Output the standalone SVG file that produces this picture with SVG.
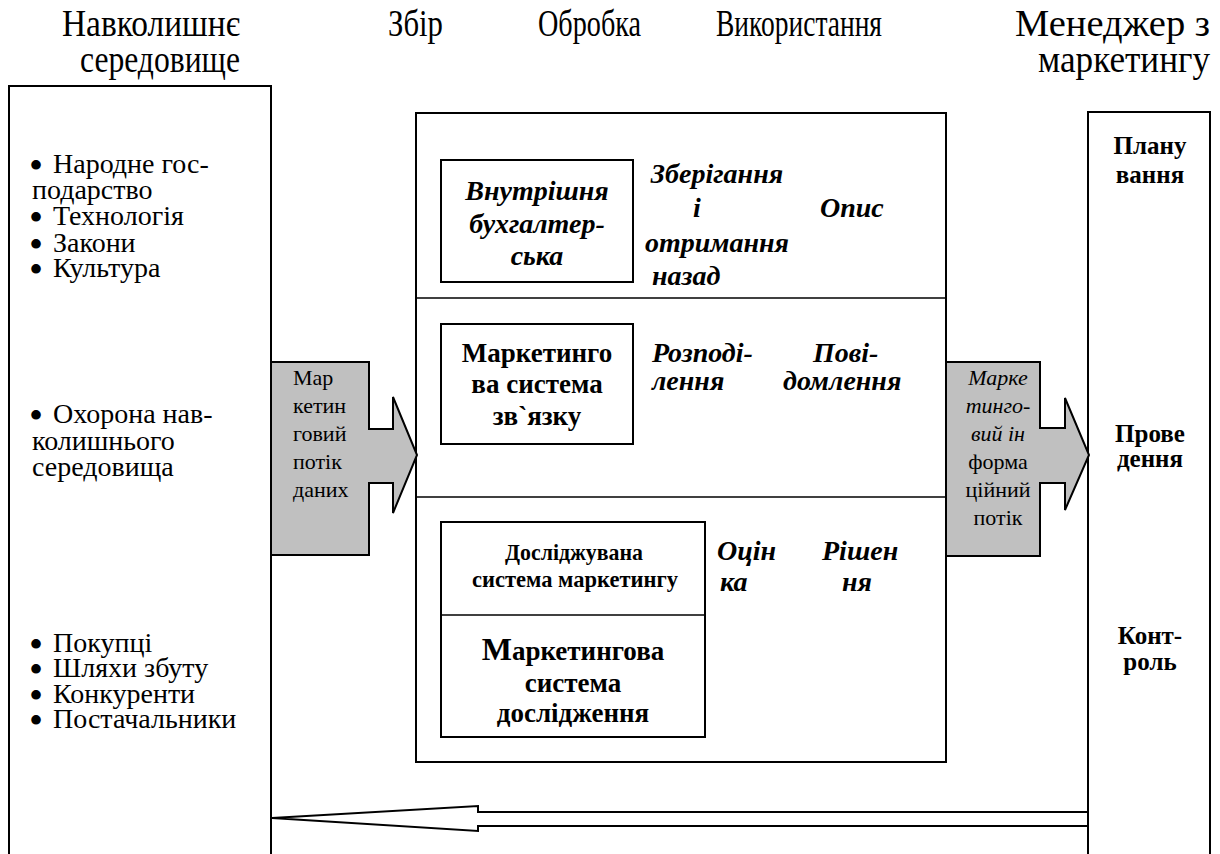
<svg xmlns="http://www.w3.org/2000/svg" width="1220" height="854" viewBox="0 0 1220 854">
<style>
text{font-family:'Liberation Serif','Times New Roman',Tinos,'DejaVu Serif',serif;fill:#000}
.title{font-size:37px}
.list{font-size:28px}
.bul{font-size:40px}
.bi{font-size:28px;font-weight:bold;font-style:italic}
.b{font-size:27px;font-weight:bold}
.bs{font-size:24px;font-weight:bold}
.g{font-size:22px}
.gi{font-size:22px;font-style:italic}
.rb{font-size:25px;font-weight:bold}
.box{fill:#fff;stroke:#000;stroke-width:2}
.div{stroke:#000;stroke-width:1.5;fill:none}
.arr{fill:#c0c0c0;stroke:#000;stroke-width:2;stroke-linejoin:miter}
.harr{fill:#fff;stroke:#000;stroke-width:2}
</style>
<rect width="1220" height="854" fill="#fff"/>
<g id="titles">
<text class="title" x="62" y="36" textLength="178" lengthAdjust="spacingAndGlyphs">Навколишнє</text>
<text class="title" x="80" y="72" textLength="160" lengthAdjust="spacingAndGlyphs">середовище</text>
<text class="title" x="388" y="36" textLength="55" lengthAdjust="spacingAndGlyphs">Збір</text>
<text class="title" x="538" y="36" textLength="103" lengthAdjust="spacingAndGlyphs">Обробка</text>
<text class="title" x="716" y="36" textLength="166" lengthAdjust="spacingAndGlyphs">Використання</text>
<text class="title" x="1015" y="36" textLength="195" lengthAdjust="spacingAndGlyphs">Менеджер з</text>
<text class="title" x="1038" y="72" textLength="172" lengthAdjust="spacingAndGlyphs">маркетингу</text>
</g>
<g id="environment">
<rect class="box" x="9" y="86" width="262" height="780"/>
<text class="list" y="173"><tspan class="bul" x="29" dy="6">•</tspan><tspan x="53" dy="-6">Народне гос-</tspan></text>
<text class="list" x="32" y="199">подарство</text>
<text class="list" y="225"><tspan class="bul" x="29" dy="6">•</tspan><tspan x="53" dy="-6">Технологія</tspan></text>
<text class="list" y="252"><tspan class="bul" x="29" dy="6">•</tspan><tspan x="53" dy="-6">Закони</tspan></text>
<text class="list" y="277"><tspan class="bul" x="29" dy="6">•</tspan><tspan x="53" dy="-6">Культура</tspan></text>
<text class="list" y="423"><tspan class="bul" x="29" dy="6">•</tspan><tspan x="53" dy="-6">Охорона нав-</tspan></text>
<text class="list" x="32" y="450">колишнього</text>
<text class="list" x="32" y="476">середовища</text>
<text class="list" y="652"><tspan class="bul" x="29" dy="6">•</tspan><tspan x="53" dy="-6">Покупці</tspan></text>
<text class="list" y="677"><tspan class="bul" x="29" dy="6">•</tspan><tspan x="53" dy="-6">Шляхи збуту</tspan></text>
<text class="list" y="703"><tspan class="bul" x="29" dy="6">•</tspan><tspan x="53" dy="-6">Конкуренти</tspan></text>
<text class="list" y="728"><tspan class="bul" x="29" dy="6">•</tspan><tspan x="53" dy="-6">Постачальники</tspan></text>
</g>
<g id="manager">
<rect class="box" x="1088" y="112" width="122" height="760"/>
<text class="rb" x="1150" y="154" text-anchor="middle">Плану</text>
<text class="rb" x="1150" y="183" text-anchor="middle">вання</text>
<text class="rb" x="1150" y="442" text-anchor="middle">Прове</text>
<text class="rb" x="1150" y="467" text-anchor="middle">дення</text>
<text class="rb" x="1150" y="644" text-anchor="middle">Конт-</text>
<text class="rb" x="1150" y="670" text-anchor="middle">роль</text>
</g>
<g id="system">
<rect class="box" x="416" y="113" width="530" height="649"/>
<line class="div" x1="416" y1="298" x2="946" y2="298"/>
<line class="div" x1="416" y1="497" x2="946" y2="497"/>
</g>
<g id="internal">
<rect class="box" x="441" y="160" width="192" height="122"/>
<text class="bi" x="537" y="200" text-anchor="middle">Внутрішня</text>
<text class="bi" x="537" y="233" text-anchor="middle">бухгалтер-</text>
<text class="bi" x="537" y="265" text-anchor="middle">ська</text>
</g>
<g id="storage">
<text class="bi" x="717" y="183" text-anchor="middle">Зберігання</text>
<text class="bi" x="697" y="217" text-anchor="middle">і</text>
<text class="bi" x="717" y="252" text-anchor="middle">отримання</text>
<text class="bi" x="652" y="285">назад</text>
</g>
<g id="description">
<text class="bi" x="820" y="217">Опис</text>
</g>
<g id="communication">
<rect class="box" x="441" y="324" width="192" height="120"/>
<text class="b" x="537" y="362" text-anchor="middle">Маркетинго</text>
<text class="b" x="537" y="393" text-anchor="middle">ва система</text>
<text class="b" x="537" y="425" text-anchor="middle">зв`язку</text>
</g>
<g id="distribution">
<text class="bi" x="652" y="362">Розподі-</text>
<text class="bi" x="652" y="390">лення</text>
</g>
<g id="message">
<text class="bi" x="813" y="362">Пові-</text>
<text class="bi" x="783" y="390">домлення</text>
</g>
<g id="research">
<rect class="box" x="441" y="522" width="264" height="215"/>
<line class="div" x1="441" y1="615" x2="705" y2="615"/>
<text class="bs" x="574" y="560" text-anchor="middle" textLength="138" lengthAdjust="spacingAndGlyphs">Досліджувана</text>
<text class="bs" x="575" y="587" text-anchor="middle" textLength="206" lengthAdjust="spacingAndGlyphs">система  маркетингу</text>
<text class="b" x="573" y="660" text-anchor="middle"><tspan font-size="32">М</tspan>аркетингова</text>
<text class="b" x="573" y="692" text-anchor="middle">система</text>
<text class="b" x="573" y="722" text-anchor="middle">дослідження</text>
</g>
<g id="evaluation">
<text class="bi" x="717" y="560">Оцін</text>
<text class="bi" x="720" y="591">ка</text>
</g>
<g id="decision">
<text class="bi" x="822" y="560">Рішен</text>
<text class="bi" x="842" y="591">ня</text>
</g>
<g id="connectors">
<polygon class="arr" points="271,362 369,362 369,429 393,429 393,397 417,455 393,513 393,483 369,483 369,555 271,555"/>
<polygon class="arr" points="946,362 1040,362 1040,428 1065,428 1065,398 1089,455 1065,510 1065,483 1040,483 1040,556 946,556"/>
<polygon class="harr" points="272,818 478,806 478,812 1088,812 1088,826 478,826 478,831"/>
</g>
<g id="flow-labels">
<text class="g" x="293" y="385">Мар</text>
<text class="g" x="293" y="413">кетин</text>
<text class="g" x="293" y="441">говий</text>
<text class="g" x="293" y="469">потік</text>
<text class="g" x="293" y="497">даних</text>
<text class="gi" x="998" y="385" text-anchor="middle">Марке</text>
<text class="gi" x="998" y="413" text-anchor="middle">тинго-</text>
<text class="gi" x="998" y="441" text-anchor="middle">вий ін</text>
<text class="g" x="998" y="469" text-anchor="middle">форма</text>
<text class="g" x="998" y="497" text-anchor="middle">ційний</text>
<text class="g" x="998" y="525" text-anchor="middle">потік</text>
</g>
</svg>
